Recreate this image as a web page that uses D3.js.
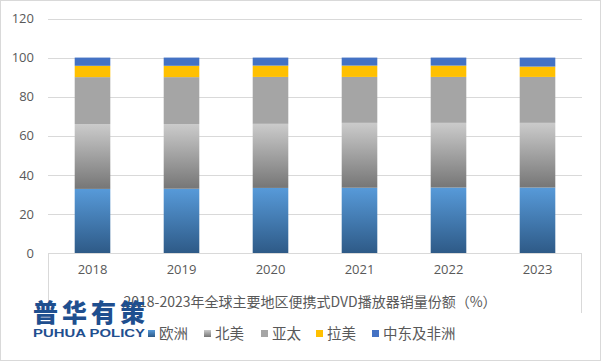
<!DOCTYPE html>
<html>
<head>
<meta charset="utf-8">
<script src="https://cdn.jsdelivr.net/npm/d3@7"></script>
<style>
  body { margin: 0; background: #fff; }
  text { font-family: "Noto Sans CJK SC", "Open Sans", sans-serif; }
</style>
</head>
<body>
<script>
//chart data
const years = ["2018", "2019", "2020", "2021", "2022", "2023"];
const regions = ["欧洲", "北美", "亚太", "拉美", "中东及非洲"];
const europe = [32.8, 32.9, 33.3, 33.4, 33.5, 33.5];
const northAmerica = [33.2, 33.1, 32.8, 33.2, 33.1, 33.1];
const asiaPacific = [24.0, 24.0, 24.0, 23.5, 23.5, 23.5];
const latinAmerica = [5.8, 5.8, 5.8, 5.8, 5.8, 5.3];
const middleEastAfrica = [4.2, 4.2, 4.1, 4.1, 4.1, 4.6];
const yTicks = [0, 20, 40, 60, 80, 100, 120];
const title = "2018-2023年全球主要地区便携式DVD播放器销量份额（%）";

window.onload = draw();

function draw() {
    let width = 601,
        height = 361;

    let svg = d3.select("body")
        .append("svg")
        .attr("width", width)
        .attr("height", height);

    let defs = svg.append("defs");

    //gradients for the two shaded series
    let gEu = defs.append("linearGradient").attr("id", "gEu")
        .attr("x1", 0).attr("y1", 0).attr("x2", 0).attr("y2", 1);
    gEu.append("stop").attr("offset", "0%").attr("stop-color", "#579ad9");
    gEu.append("stop").attr("offset", "100%").attr("stop-color", "#2e5a87");

    let gNa = defs.append("linearGradient").attr("id", "gNa")
        .attr("x1", 0).attr("y1", 0).attr("x2", 0).attr("y2", 1);
    gNa.append("stop").attr("offset", "0%").attr("stop-color", "#cbcbcb");
    gNa.append("stop").attr("offset", "100%").attr("stop-color", "#767676");

    let colors = ["url(#gEu)", "url(#gNa)", "#a5a5a5", "#ffc000", "#4472c4"];

    //outer border
    svg.append("rect")
        .attr("x", 0.5).attr("y", 0.5)
        .attr("width", width - 1).attr("height", height - 1)
        .attr("fill", "none").attr("stroke", "#d9d9d9");

    let left = 48, right = 582, top = 18.5, bottom = 253;

    let x = d3.scaleBand()
        .domain(years)
        .range([left, right])
        .paddingInner(0.6)
        .paddingOuter(0.3);

    let y = d3.scaleLinear()
        .domain([0, 120])
        .range([bottom, top]);

    //gridlines
    svg.append("g")
        .selectAll("line")
        .data(yTicks.filter(d => d > 0))
        .enter()
        .append("line")
        .attr("x1", left).attr("x2", right)
        .attr("y1", d => Math.round(y(d)) + 0.5)
        .attr("y2", d => Math.round(y(d)) + 0.5)
        .attr("stroke", "#d9d9d9");

    //y axis labels
    let yAxis = svg.append("g")
        .attr("transform", "translate(" + (left - 14) + ",0)")
        .call(d3.axisLeft(y).tickValues(yTicks).tickSize(0).tickPadding(0));
    yAxis.select(".domain").remove();
    yAxis.selectAll("text")
        .attr("fill", "#595959")
        .style("font-size", "13px")
        .style("font-family", "'Open Sans', sans-serif");

    //stacked bars
    let table = years.map((yr, i) => ({
        year: yr,
        "欧洲": europe[i],
        "北美": northAmerica[i],
        "亚太": asiaPacific[i],
        "拉美": latinAmerica[i],
        "中东及非洲": middleEastAfrica[i]
    }));
    let stack = d3.stack().keys(regions)(table);

    svg.append("g")
        .selectAll("g")
        .data(stack)
        .enter()
        .append("g")
        .attr("fill", (d, i) => colors[i])
        .selectAll("rect")
        .data(d => d)
        .enter()
        .append("rect")
        .attr("x", d => x(d.data.year))
        .attr("width", x.bandwidth())
        .attr("y", d => y(d[1]))
        .attr("height", d => y(d[0]) - y(d[1]));

    //category axis
    let xAxis = svg.append("g")
        .attr("transform", "translate(0," + bottom + ")")
        .call(d3.axisBottom(x).tickSize(0).tickPadding(12));
    xAxis.select(".domain")
        .attr("stroke", "#d9d9d9")
        .attr("d", "M" + left + ",0.5H" + right);
    xAxis.selectAll("text")
        .attr("fill", "#595959")
        .style("font-size", "13px")
        .style("font-family", "'Open Sans', sans-serif");

    //side lines under the axis
    svg.append("line")
        .attr("x1", left + 0.5).attr("x2", left + 0.5)
        .attr("y1", bottom).attr("y2", 303)
        .attr("stroke", "#d9d9d9");
    svg.append("line")
        .attr("x1", right - 0.5).attr("x2", right - 0.5)
        .attr("y1", bottom).attr("y2", 313)
        .attr("stroke", "#d9d9d9");

    //axis title
    svg.append("text")
        .attr("x", 310).attr("y", 307)
        .attr("text-anchor", "middle")
        .attr("fill", "#595959")
        .style("font-size", "14px")
        .text(title);

    //legend
    let legendX = [148, 204, 261, 316, 372];
    let legend = svg.append("g")
        .selectAll("g")
        .data(regions)
        .enter()
        .append("g")
        .attr("transform", (d, i) => "translate(" + legendX[i] + ",330)");
    legend.append("rect")
        .attr("width", 7).attr("height", 7)
        .attr("fill", (d, i) => colors[i]);
    legend.append("text")
        .attr("x", 11).attr("y", 9)
        .attr("fill", "#595959")
        .style("font-size", "14.5px")
        .text(d => d);

    //logo watermark
    let logo = svg.append("g");
    logo.append("text")
        .attr("x", 33).attr("y", 322)
        .attr("fill", "#1f4f8f")
        .style("font-size", "25px")
        .style("font-weight", "900")
        .style("letter-spacing", "4px")
        .text("普华有策");
    logo.append("text")
        .attr("x", 33).attr("y", 337)
        .attr("fill", "#1f4f8f")
        .style("font-size", "11px")
        .style("font-weight", "bold")
        .style("font-family", "'Liberation Sans', Arial, sans-serif")
        .attr("textLength", 112)
        .attr("lengthAdjust", "spacingAndGlyphs")
        .text("PUHUA POLICY");
}
</script>
</body>
</html>
